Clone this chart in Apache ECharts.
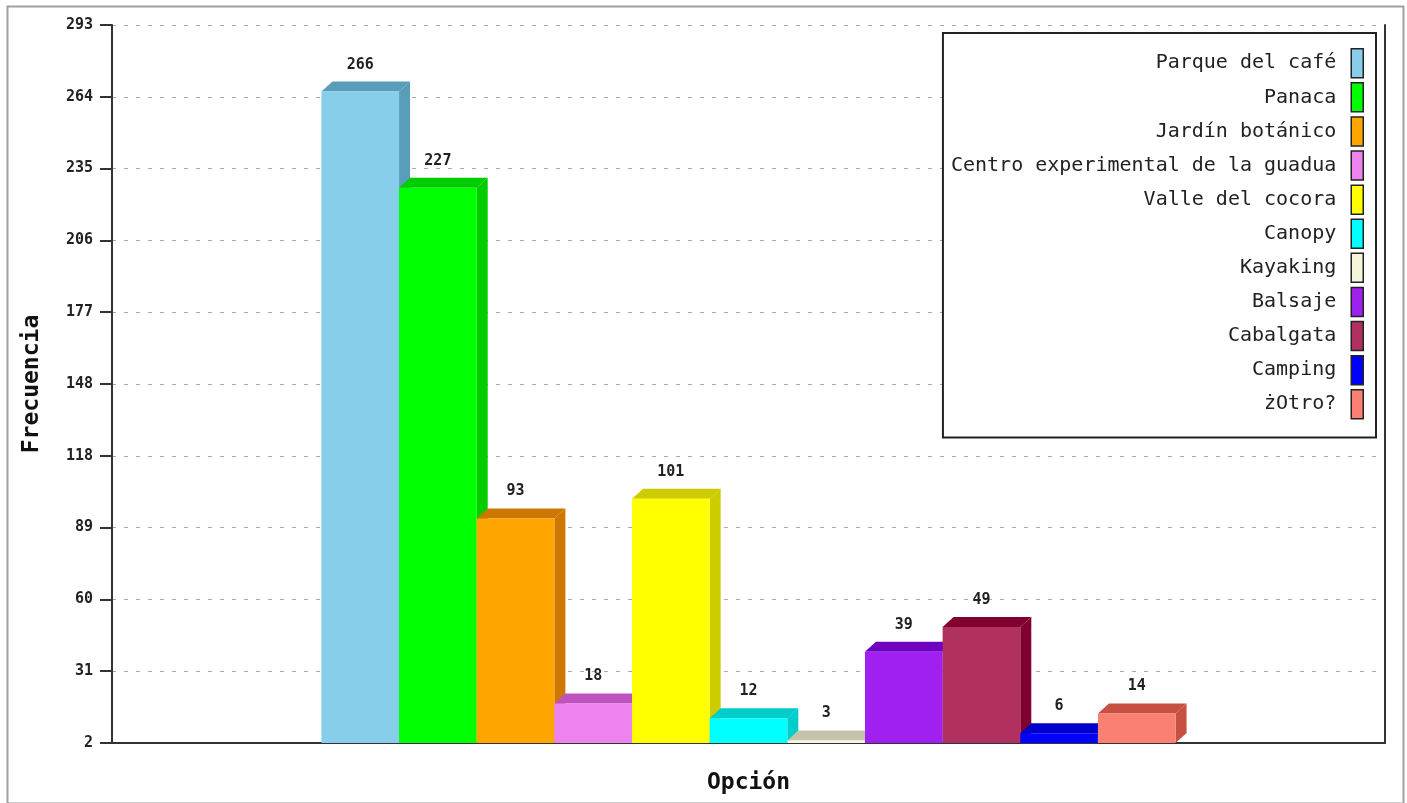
<!DOCTYPE html>
<html>
<head>
<meta charset="utf-8">
<script src="https://cdn.jsdelivr.net/npm/echarts@6/dist/echarts.min.js"></script>
<style>
html,body{margin:0;padding:0;background:#fff;}
#chart{width:1407px;height:803px;}
</style>
</head>
<body>
<div id="chart"></div>
<script>
const seriesNames = ['Parque del café','Panaca','Jardín botánico','Centro experimental de la guadua','Valle del cocora','Canopy','Kayaking','Balsaje','Cabalgata','Camping','żOtro?'];
const seriesValues = [266, 227, 93, 18, 101, 12, 3, 39, 49, 6, 14];
const colors = ['#87CEEB','#00FF00','#FFA500','#EE82EE','#FFFF00','#00FFFF','#F5F5DC','#A020F0','#B03060','#0000FF','#FA8072'];
const sideColors = ['#5A9DBA','#00CC00','#CC7700','#BE52BE','#CCCC00','#00CCCC','#C4C4AC','#7000C0','#800030','#0000CC','#C85040'];
const yTickValues = [2, 31.1, 60.2, 89.3, 118.4, 147.5, 176.6, 205.7, 234.8, 263.9, 293];
const yMin = 2, yMax = 293;
const xTitle = 'Opción';
const yTitle = 'Frecuencia';

const FONT = '"DejaVu Sans Mono", "Liberation Mono", monospace';
const catGap = 0.329;
const n = seriesNames.length;

const series = seriesNames.map((name, i) => ({
  type: 'custom',
  name: name,
  itemStyle: { color: colors[i] },
  data: [[0, seriesValues[i]]],
  encode: { x: 0, y: 1 },
  z: 2 + i,
  renderItem: function (params, api) {
    const v = api.value(1);
    const base = api.coord([0, yMin]);
    const top = api.coord([0, v]);
    const band = api.size([1, 0])[0];
    const groupW = band * (1 - catGap);
    const w = groupW / n;
    const x0 = base[0] - groupW / 2 + i * w;
    const dx = 11, dy = 10;
    const yt = top[1], yb = base[1];
    return {
      type: 'group',
      children: [
        { type: 'polygon', shape: { points: [[x0 + w, yt], [x0 + w + dx, yt - dy], [x0 + w + dx, yb - dy], [x0 + w, yb]] }, style: { fill: sideColors[i] } },
        { type: 'polygon', shape: { points: [[x0, yt], [x0 + dx, yt - dy], [x0 + w + dx, yt - dy], [x0 + w, yt]] }, style: { fill: sideColors[i] } },
        { type: 'rect', shape: { x: x0, y: yt, width: w, height: yb - yt }, style: { fill: colors[i] } },
        { type: 'text', style: { text: String(v), x: x0 + w / 2, y: yt - dy - 17, align: 'center', verticalAlign: 'middle', font: 'bold 15px ' + FONT, fill: '#222' } }
      ]
    };
  }
}));

const chart = echarts.init(document.getElementById('chart'), null, { renderer: 'canvas' });
chart.setOption({
  backgroundColor: '#fff',
  animation: false,
  graphic: [
    { type: 'rect', left: 5, top: 4, shape: { width: 1396, height: 797 }, style: { fill: 'none', stroke: '#a0a0a0', lineWidth: 2 }, z: -10 }
  ],
  grid: { left: 112, right: 22, top: 25, bottom: 60 },
  legend: {
    orient: 'vertical',
    right: 31,
    top: 33,
    align: 'right',
    icon: 'rect',
    itemWidth: 12,
    itemHeight: 29,
    itemGap: 3.6,
    padding: [15, 12, 18, 8],
    backgroundColor: '#fff',
    borderColor: '#222',
    borderWidth: 2,
    itemStyle: { borderColor: '#222', borderWidth: 1.5 },
    textStyle: { fontFamily: FONT, fontSize: 20, color: '#222', padding: [0, 10, 0, 0] },
    data: seriesNames
  },
  xAxis: {
    type: 'category',
    data: [''],
    boundaryGap: true,
    name: xTitle,
    nameLocation: 'middle',
    nameGap: 40,
    nameTextStyle: { fontFamily: FONT, fontSize: 23, fontWeight: 'bold', color: '#111', verticalAlign: 'middle' },
    axisLine: { show: true, lineStyle: { color: '#333', width: 2 } },
    axisTick: { show: false },
    axisLabel: { show: false },
    splitLine: { show: false }
  },
  yAxis: [
    {
      type: 'value',
      min: yMin,
      max: yMax,
      position: 'left',
      name: yTitle,
      nameLocation: 'middle',
      nameGap: 80,
      nameRotate: 90,
      nameTextStyle: { fontFamily: FONT, fontSize: 23, fontWeight: 'bold', color: '#111', verticalAlign: 'middle' },
      axisLine: { show: true, lineStyle: { color: '#333', width: 2 } },
      axisTick: { show: true, length: 12, customValues: yTickValues, lineStyle: { color: '#333', width: 2 } },
      axisLabel: { customValues: yTickValues, margin: 19, fontFamily: FONT, fontSize: 15, fontWeight: 'bold', color: '#222', formatter: v => String(Math.round(v)) },
      splitLine: { show: true, lineStyle: { color: '#aaa', width: 1, type: [4, 8] } }
    },
    {
      type: 'value',
      min: yMin,
      max: yMax,
      position: 'right',
      axisLine: { show: true, lineStyle: { color: '#333', width: 2 } },
      axisTick: { show: false },
      axisLabel: { show: false },
      splitLine: { show: false }
    }
  ],
  series: series
});
</script>
</body>
</html>
